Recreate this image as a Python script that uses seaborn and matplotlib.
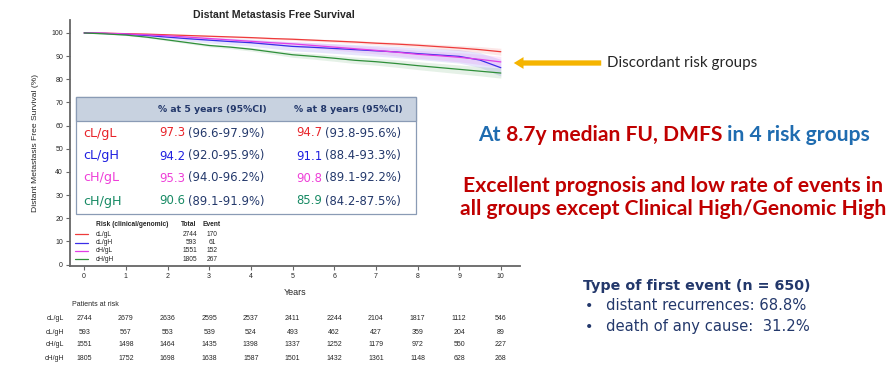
import pandas as pd
import matplotlib.pyplot as plt
import seaborn as sns
from matplotlib import transforms
from matplotlib.patches import Rectangle, FancyArrowPatch, ArrowStyle
from matplotlib.lines import Line2D

sns.set_theme(style="ticks")
plt.rcParams['font.family'] = ['Liberation Sans', 'DejaVu Sans']

# --- data ---
years = [0, 0.5, 1, 1.5, 2, 2.5, 3, 3.5, 4, 4.5, 5, 5.5, 6, 6.5, 7, 7.5, 8, 8.5, 9, 9.5, 10]
groups = ["cL/gL", "cL/gH", "cH/gL", "cH/gH"]
surv_clgl = [100, 99.9, 99.7, 99.5, 99.2, 98.9, 98.6, 98.3, 98.0, 97.6, 97.3, 96.9, 96.5, 96.1, 95.6, 95.2, 94.7, 94.1, 93.5, 92.8, 91.9]
surv_clgh = [100, 99.8, 99.4, 98.9, 98.2, 97.5, 96.9, 96.3, 95.8, 95.0, 94.2, 93.8, 93.3, 92.8, 92.3, 91.8, 91.1, 90.5, 89.9, 88.3, 85.0]
surv_chgl = [100, 99.9, 99.6, 99.2, 98.8, 98.2, 97.6, 97.0, 96.4, 95.8, 95.3, 94.6, 93.9, 93.2, 92.5, 91.7, 90.8, 90.2, 89.5, 88.6, 87.5]
surv_chgh = [100, 99.6, 99.1, 98.2, 97.0, 95.8, 94.6, 93.9, 93.0, 91.8, 90.6, 89.9, 89.1, 88.2, 87.6, 86.8, 85.9, 85.1, 84.3, 83.5, 82.7]
ci_clgl = [0, 0.05, 0.1, 0.15, 0.2, 0.25, 0.3, 0.35, 0.4, 0.45, 0.5, 0.55, 0.6, 0.65, 0.7, 0.8, 0.9, 1.0, 1.1, 1.3, 1.5]
ci_clgh = [0, 0.2, 0.4, 0.6, 0.8, 1.0, 1.2, 1.4, 1.5, 1.7, 1.9, 2.0, 2.1, 2.2, 2.3, 2.4, 2.5, 2.7, 2.9, 3.2, 3.6]
ci_chgl = [0, 0.1, 0.2, 0.3, 0.4, 0.5, 0.6, 0.7, 0.8, 0.9, 1.1, 1.2, 1.3, 1.4, 1.5, 1.6, 1.7, 1.8, 2.0, 2.2, 2.4]
ci_chgh = [0, 0.1, 0.2, 0.3, 0.4, 0.5, 0.6, 0.7, 0.8, 0.9, 1.1, 1.2, 1.3, 1.4, 1.5, 1.6, 1.7, 1.8, 1.9, 2.0, 2.2]

totals = [2744, 593, 1551, 1805]
events = [170, 61, 152, 267]

pct5 = ["97.3", "94.2", "95.3", "90.6"]
ci5 = ["(96.6-97.9%)", "(92.0-95.9%)", "(94.0-96.2%)", "(89.1-91.9%)"]
pct8 = ["94.7", "91.1", "90.8", "85.9"]
ci8 = ["(93.8-95.6%)", "(88.4-93.3%)", "(89.1-92.2%)", "(84.2-87.5%)"]

risk_years = [0, 1, 2, 3, 4, 5, 6, 7, 8, 9, 10]
risk_clgl = [2744, 2679, 2636, 2595, 2537, 2411, 2244, 2104, 1817, 1112, 546]
risk_clgh = [593, 567, 553, 539, 524, 493, 462, 427, 359, 204, 89]
risk_chgl = [1551, 1498, 1464, 1435, 1398, 1337, 1252, 1179, 972, 550, 227]
risk_chgh = [1805, 1752, 1698, 1638, 1587, 1501, 1432, 1361, 1148, 628, 268]

line_colors = {"cL/gL": "#ee3b3b", "cL/gH": "#3a2ee8", "cH/gL": "#e23ee6", "cH/gH": "#2f8f3a"}
text_colors = {"cL/gL": "#e8242a", "cL/gH": "#1f1fe0", "cH/gL": "#ee3fd8", "cH/gH": "#178a64"}
navy = "#23386b"
dark_red = "#c00000"
blue_txt = "#1f6cb0"

surv = [surv_clgl, surv_clgh, surv_chgl, surv_chgh]
cis = [ci_clgl, ci_clgh, ci_chgl, ci_chgh]
risks = [risk_clgl, risk_clgh, risk_chgl, risk_chgh]

rows = []
for g, s in zip(groups, surv):
    for t, v in zip(years, s):
        rows.append({"Years": t, "surv": v, "group": g})
df = pd.DataFrame(rows)

W, H = 896, 370


def fx(px):
    return px / W


def fy(py):
    return 1 - py / H


fig = plt.figure(figsize=(W / 100, H / 100), dpi=100)
ax = fig.add_axes([fx(70), fy(266), 450 / W, 246 / H])

# confidence bands
for g, s, c in zip(groups, surv, cis):
    lo = [a - b for a, b in zip(s, c)]
    hi = [a + b for a, b in zip(s, c)]
    ax.fill_between(years, lo, hi, color=line_colors[g], alpha=0.12, linewidth=0)

sns.lineplot(data=df, x="Years", y="surv", hue="group", hue_order=groups,
             palette=line_colors, legend=False, ax=ax, linewidth=0.9)

ax.set_xlim(-0.34, 10.46)
ax.set_ylim(-0.6, 105.6)
ax.set_xticks(range(0, 11))
ax.set_yticks(range(0, 101, 10))
ax.tick_params(labelsize=5, length=3, width=0.8, color="#666666", pad=2)
for sp in ["top", "right"]:
    ax.spines[sp].set_visible(False)
for sp in ["left", "bottom"]:
    ax.spines[sp].set_color("#666666")
    ax.spines[sp].set_linewidth(1.3)
ax.set_xlabel("Years", fontsize=6.5, labelpad=6)
ax.set_ylabel("Distant Metastasis Free Survival (%)", fontsize=6.1, labelpad=9)

fig.text(fx(274), fy(15), "Distant Metastasis Free Survival", fontsize=7.6,
         fontweight="bold", ha="center", va="center")

# inner summary table
fig.patches.append(Rectangle((fx(76), fy(214)), (416 - 76) / W, (214 - 97) / H,
                             transform=fig.transFigure, facecolor="white",
                             edgecolor="#8a9bb5", linewidth=0.9, zorder=3))
fig.patches.append(Rectangle((fx(76), fy(121)), (416 - 76) / W, (121 - 97) / H,
                             transform=fig.transFigure, facecolor="#c8d2e0",
                             edgecolor="#8a9bb5", linewidth=0.9, zorder=3))
fig.text(fx(212), fy(110), "% at 5 years (95%CI)", family="DejaVu Sans", fontsize=6.7,
         fontweight="bold", color=navy, ha="center", va="center", zorder=4)
fig.text(fx(348), fy(110), "% at 8 years (95%CI)", family="DejaVu Sans", fontsize=6.7,
         fontweight="bold", color=navy, ha="center", va="center", zorder=4)
row_y = [133, 156, 178, 201]

renderer = fig.canvas.get_renderer()


def pair(x, y, a, b, color, size):
    t = fig.text(fx(x), fy(y), a, family="DejaVu Sans", fontsize=size, color=color,
                 va="center", zorder=4)
    bb = t.get_window_extent(renderer)
    fig.text(bb.x1 / W + fx(3), fy(y), b, family="DejaVu Sans", fontsize=size,
             color=navy, va="center", zorder=4)


for i, g in enumerate(groups):
    fig.text(fx(83), fy(row_y[i]), g, family="DejaVu Sans", fontsize=9.2,
             color=text_colors[g], va="center", zorder=4)
    pair(159, row_y[i], pct5[i], ci5[i], text_colors[g], 8.4)
    pair(296, row_y[i], pct8[i], ci8[i], text_colors[g], 8.4)

# legend block
fig.text(fx(96), fy(225), "Risk (clinical/genomic)", fontsize=4.8, fontweight="bold", va="center")
fig.text(fx(189), fy(225), "Total", fontsize=4.8, fontweight="bold", va="center", ha="center")
fig.text(fx(212), fy(225), "Event", fontsize=4.8, fontweight="bold", va="center", ha="center")
leg_y = [234, 242.5, 251, 259.3]
for i, g in enumerate(groups):
    fig.add_artist(Line2D([fx(75), fx(88)], [fy(leg_y[i])] * 2, color=line_colors[g], linewidth=0.9))
    fig.text(fx(96), fy(leg_y[i]), g, fontsize=4.8, va="center")
    fig.text(fx(197), fy(leg_y[i]), str(totals[i]), fontsize=4.8, va="center", ha="right")
    fig.text(fx(212), fy(leg_y[i]), str(events[i]), fontsize=4.8, va="center", ha="center")

# patients at risk
fig.text(fx(72), fy(304), "Patients at risk", fontsize=5, va="center")
trans = transforms.blended_transform_factory(ax.transData, fig.transFigure)
risk_row_y = [318, 332, 345, 359]
for i, g in enumerate(groups):
    fig.text(fx(64), fy(risk_row_y[i]), g, fontsize=5, va="center", ha="right")
    for yr, n in zip(risk_years, risks[i]):
        ax.text(yr, fy(risk_row_y[i]), str(n), fontsize=5, va="center", ha="center",
                transform=trans, clip_on=False)

# right side annotations
arrow = FancyArrowPatch((fx(604), fy(63)), (fx(511), fy(63)), transform=fig.transFigure,
                        arrowstyle=ArrowStyle.Simple(head_length=0.7, head_width=0.85, tail_width=0.38),
                        mutation_scale=10, color="#f5b400", linewidth=0)
fig.add_artist(arrow)
fig.text(fx(607), fy(63), "Discordant risk groups", family="Lato", fontsize=10.9, va="center")


def rich(x, y, parts, size):
    for s, c in parts:
        t = fig.text(x, y, s, family="Lato", fontsize=size, fontweight="bold",
                     color=c, va="center")
        x = t.get_window_extent(renderer).x1 / W


rich(fx(478), fy(135), [("At", blue_txt), (" 8.7y median FU, DMFS", dark_red),
                         (" in 4 risk groups", blue_txt)], 15.1)
fig.text(fx(673), fy(186), "Excellent prognosis and low rate of events in", family="Lato",
         fontsize=15.2, fontweight="bold", color=dark_red, ha="center", va="center")
fig.text(fx(673), fy(209), "all groups except Clinical High/Genomic High", family="Lato",
         fontsize=15.2, fontweight="bold", color=dark_red, ha="center", va="center")

fig.text(fx(583), fy(286), "Type of first event (n = 650)", family="DejaVu Sans", fontsize=10.3,
         fontweight="bold", color=navy, va="center")
fig.text(fx(585), fy(306), "•", family="DejaVu Sans", fontsize=10.3, color=navy, va="center")
fig.text(fx(606), fy(306), "distant recurrences: 68.8%", family="DejaVu Sans", fontsize=10.6,
         color=navy, va="center")
fig.text(fx(585), fy(327), "•", family="DejaVu Sans", fontsize=10.3, color=navy, va="center")
fig.text(fx(606), fy(327), "death of any cause:  31.2%", family="DejaVu Sans", fontsize=10.6,
         color=navy, va="center")

fig.savefig("out.png", dpi=100)
